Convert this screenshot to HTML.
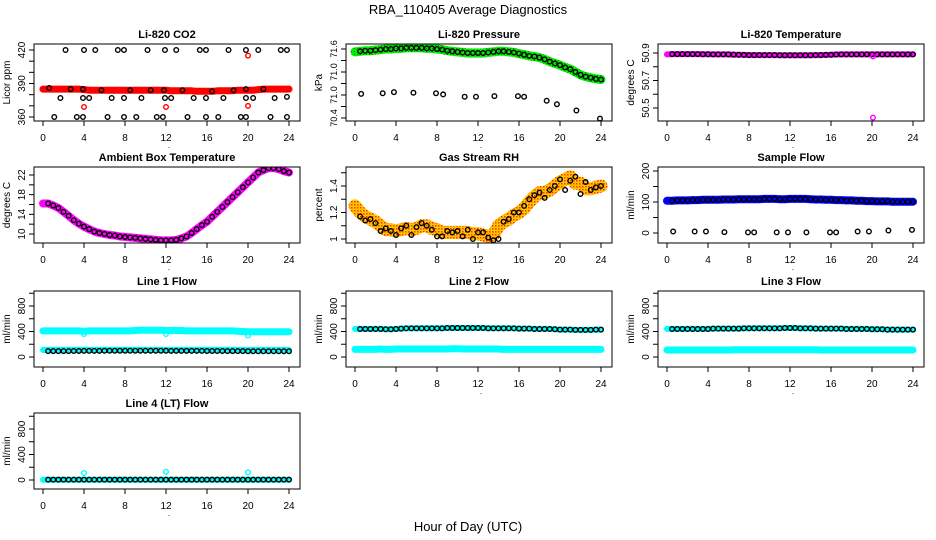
<!DOCTYPE html>
<html><head><meta charset="utf-8"><style>
html,body{margin:0;padding:0;background:#fff}
svg{display:block;font-family:"Liberation Sans",sans-serif}
</style></head><body>
<svg id="chart" width="936" height="540" viewBox="0 0 936 540" xmlns="http://www.w3.org/2000/svg">
<defs>
<pattern id="rhpat" width="3" height="3" patternUnits="userSpaceOnUse">
<rect width="3" height="3" fill="#ffd400"/><rect width="1.5" height="1.5" fill="#ff3000"/><rect x="1.5" y="1.5" width="1" height="1" fill="#ff8000"/>
</pattern>
<pattern id="grpat" width="3" height="3" patternUnits="userSpaceOnUse">
<rect width="3" height="3" fill="#00ee00"/><rect width="1" height="1" fill="#008800"/>
</pattern>
</defs>
<text x="468" y="14" text-anchor="middle" font-size="13">RBA_110405  Average Diagnostics</text>
<text x="468" y="531" text-anchor="middle" font-size="13">Hour of Day (UTC)</text>
</svg>
<script>
// ---- data ----
const xTicks = [0,4,8,12,16,20,24];

const co2Band = [385,385,385,385,385,385,385,385,384.5,384,384,384,384,384,384,384,384,384,384,384,384,384,384,384,384,383.5,383.5,383.5,383.5,383.5,383,383,383,383,383.5,383.5,383.5,383.5,384,384,384,384,384.5,385,385,385,385,385,385];
const co2BlackX = [2.2,4,5.1,7.3,7.9,10.2,11.9,13,15.3,15.9,18.1,19.8,21,23.2,23.8, 1.1,3.3,3.9,6.3,7.9,9.1,11.1,11.7,14.1,15.9,17.1,19.3,19.8,22.2,23.8, 1.7,3.9,4.5,6.7,7.9,9.6,11.9,12.5,14.7,15.9,17.6,19.8,20.5,22.6,23.8, 0.6,2.7,3.9,5.7,8.5,10.5,11.8,13.6,16.5,18.6,19.8,21.5];
const co2BlackY = [420,420,420,420,420,420,420,420,420,420,420,420,420,420,420, 360,360,360,360,360,360,360,360,360,360,360,360,360,360,360, 377,377,377,377,377,377,377,377,377,377,377,377,377,377,378, 386,385,385,384,384,384,384,384,383,384,385,385];
const co2OutX = [4,12,20,20];
const co2OutY = [369,369,370,415];

const pressBand = [71.55,71.56,71.57,71.57,71.58,71.59,71.6,71.6,71.61,71.61,71.62,71.62,71.62,71.62,71.61,71.61,71.6,71.59,71.57,71.56,71.55,71.54,71.53,71.53,71.53,71.53,71.54,71.55,71.56,71.56,71.55,71.54,71.52,71.5,71.48,71.47,71.45,71.42,71.38,71.35,71.32,71.28,71.25,71.2,71.15,71.12,71.1,71.08,71.07];
const pressLowX = [0.6,2.7,3.8,5.7,7.9,8.6,10.7,11.8,13.6,15.9,16.5,18.7,19.7,21.6,23.9];
const pressLowY = [70.82,70.83,70.85,70.84,70.83,70.81,70.77,70.77,70.78,70.78,70.77,70.7,70.64,70.53,70.39];
const pressTickLabels = ["70.4","71.0","71.0","71.6"];

const tempBand = [50.89,50.892,50.892,50.892,50.892,50.892,50.892,50.891,50.891,50.89,50.89,50.89,50.89,50.888,50.887,50.886,50.885,50.885,50.885,50.885,50.885,50.885,50.884,50.884,50.884,50.884,50.884,50.884,50.884,50.885,50.885,50.886,50.887,50.889,50.89,50.89,50.89,50.89,50.89,50.89,50.89,50.89,50.89,50.89,50.89,50.89,50.89,50.89,50.89];
const tempOutX = [20.1,20.1];
const tempOutY = [50.43,50.875];

const ambBand = [16.2,16.2,15.8,15.3,14.5,13.7,12.8,12.1,11.5,11,10.5,10.2,10,9.8,9.7,9.5,9.4,9.3,9.2,9.1,9,8.9,8.8,8.7,8.7,8.7,8.8,9.1,9.5,10.2,11,11.8,12.5,13.5,14.5,15.5,16.5,17.5,18.5,19.5,20.5,21.5,22.5,23,23.4,23.4,23.2,22.8,22.5];

const rhBand = [1.25,1.2,1.17,1.15,1.13,1.1,1.07,1.07,1.06,1.07,1.08,1.07,1.08,1.1,1.1,1.08,1.07,1.05,1.05,1.05,1.05,1.05,1.05,1.04,1.04,1.03,1.02,1.03,1.1,1.13,1.15,1.18,1.2,1.23,1.28,1.32,1.35,1.35,1.37,1.4,1.43,1.45,1.47,1.42,1.42,1.38,1.38,1.39,1.4];
const rhBlack = [1.17,1.14,1.15,1.12,1.06,1.08,1.06,1.03,1.08,1.1,1.03,1.09,1.12,1.1,1.07,1.02,1.02,1.06,1.05,1.06,1.02,1.07,1.0,1.05,1.05,1.01,0.99,1.0,1.13,1.15,1.2,1.2,1.25,1.3,1.33,1.35,1.31,1.37,1.4,1.45,1.37,1.44,1.47,1.34,1.43,1.37,1.39,1.4];

const sampleBand = [104,104,105,105,105,106,106,107,107,107,107,108,108,108,109,109,109,109,109,110,110,110,109,109,110,110,110,110,109,108,108,107,107,106,106,105,105,104,104,103,103,102,102,102,101,101,101,101,101];
const sampleLowX = [0.6,2.7,3.8,5.6,7.9,8.5,10.7,11.8,13.6,15.9,16.5,18.6,19.7,21.6,23.9];
const sampleLowY = [5,5,5,3,2,2,2,2,2,2,2,5,5,8,10];

const line1Upper = [410,410,410,410,410,410,410,410,405,410,410,410,410,410,410,410,410,410,415,420,420,420,420,420,415,415,415,415,410,410,410,410,410,410,410,410,410,410,405,400,395,395,395,395,395,395,395,395,395];
const line1Lower = [110,110,112,112,112,112,112,112,112,112,112,112,112,112,112,112,112,112,112,112,112,112,112,112,112,112,112,112,112,112,112,112,112,112,112,112,112,112,110,110,110,110,110,110,110,110,110,110,110];
const line1Black = [92,92,92,93,93,94,95,96,96,97,97,98,98,98,98,98,98,98,98,98,98,98,98,98,97,97,97,97,96,96,96,95,95,94,94,93,93,92,92,91,91,90,90,90,90,90,90,90];
const line1OutX = [4,12,20];
const line1OutY = [360,360,340];

const line2Upper = [440,440,440,440,440,440,435,435,440,445,450,450,450,450,450,450,450,450,455,455,455,455,455,455,455,455,450,450,450,450,450,450,445,445,445,440,440,440,440,435,430,430,430,425,425,425,425,430,430];
const line2Lower = [120,120,120,120,120,125,120,120,125,125,125,125,125,125,125,125,125,125,125,130,130,125,125,125,125,125,125,125,125,120,120,120,120,120,120,120,120,120,120,120,120,120,120,120,120,120,120,120,120];
const line3Upper = [440,440,440,440,440,440,440,440,440,445,445,445,445,445,445,450,450,450,450,450,450,450,450,455,455,455,450,450,450,445,445,445,445,445,445,440,440,440,440,440,435,435,435,430,430,430,430,430,430];
const line3Lower = [110,110,110,110,110,110,110,110,110,110,110,110,110,115,115,115,115,115,115,115,115,115,115,115,115,115,115,115,115,115,110,110,110,110,110,110,110,110,110,110,110,110,110,110,110,110,110,110,110];

const line4Band = [5,5,5,5,5,5,5,5,5,5,5,5,5,5,5,5,5,5,5,5,5,5,5,5,5,5,5,5,5,5,5,5,5,5,5,5,5,5,5,5,5,5,5,5,5,5,5,5,5];
const line4Black = [5,5,5,5,5,5,5,5,5,5,5,5,5,5,5,5,5,5,5,5,5,5,5,5,5,5,5,5,5,5,5,5,5,5,5,5,5,5,5,5,5,5,5,5,5,5,5,5];
const line4OutX = [4,12,20];
const line4OutY = [110,130,120];

// ---- drawing ----
const NS = "http://www.w3.org/2000/svg";
const svg = document.getElementById('chart');
const colLeft = [34,346,658];
const rowTB = [[44,121],[167,243],[291,367],[413,489]];
function mk(tag, attrs, parent){
  const e = document.createElementNS(NS, tag);
  for (const k in attrs) e.setAttribute(k, attrs[k]);
  (parent||svg).appendChild(e); return e;
}
function panel(col,row,name,title,ylab,v1,p1,v2,p2,ticks,labVals,labTxt){
  const L = colLeft[col], T = rowTB[row][0], B = rowTB[row][1], R = L+266;
  const g = mk('g',{});
  
  
  const xs = h => L + 9 + h*(246/24);
  const ys = v => p1 + (v-v1)*(p2-p1)/(v2-v1);
  const t = mk('text',{x:(L+R)/2,y:T-6,'text-anchor':'middle','font-size':11,'font-weight':'bold'},g);
  t.textContent = title;
  
  
  const yl = mk('text',{x:0,y:0,'text-anchor':'middle','font-size':10,transform:`translate(${L-24},${(T+B)/2}) rotate(-90)`},g);
  yl.textContent = ylab;
  
  
  const plot = mk('g',{},g);
  const clip = 'clip'+name;
  const cp = mk('clipPath',{id:clip},g); mk('rect',{x:L,y:T,width:266,height:B-T},cp);
  plot.setAttribute('clip-path','url(#'+clip+')');
  const ax = mk('g',{stroke:'#000','stroke-width':1,fill:'none'},g);
  mk('rect',{x:L,y:T,width:266,height:B-T},ax);
  xTicks.forEach(h=>{
    mk('line',{x1:xs(h),x2:xs(h),y1:B,y2:B+5},ax);
    const tx = mk('text',{x:xs(h),y:B+20,'text-anchor':'middle','font-size':10,fill:'#000',stroke:'none'},g);
    tx.textContent = h;
  });
  const dot = mk('text',{x:xs(12)+3,y:B+27,'text-anchor':'middle','font-size':8},g); dot.textContent='.';
  ticks.forEach(v=>{ const y=ys(v); if(y<T-0.5||y>B+0.5) return; mk('line',{x1:L,x2:L-5,y1:y,y2:y},ax); });
  labVals.forEach((v,i)=>{
    const tx = mk('text',{x:0,y:0,'text-anchor':'middle','font-size':labTxt?9:10,transform:`translate(${L-9},${ys(v)}) rotate(-90)`},g);
    tx.textContent = labTxt ? labTxt[i] : v;
  });
  return {plot,xs,ys,name};
}
function band(P, arr, color, w){
  const n = arr.length;
  const pts = arr.map((v,i)=>P.xs(i*24/(n-1)).toFixed(1)+','+P.ys(v).toFixed(1)).join(' ');
  const e = mk('polyline',{points:pts,fill:'none',stroke:color,'stroke-width':w,'stroke-linejoin':'round','stroke-linecap':'round'},P.plot);
  
  
}
function circ(P, xsArr, ysArr, color){
  xsArr.forEach((h,i)=>{
    const c = mk('circle',{cx:P.xs(h),cy:P.ys(ysArr[i]),r:2.3,fill:'none',stroke:color,'stroke-width':1.4},P.plot);
    
    
  });
}
function onBand(P, arr, color){
  const n = arr.length, xsA=[], ysA=[];
  for(let i=1;i<n;i++){ xsA.push(i*24/(n-1)); ysA.push(arr[i]); }
  circ(P, xsA, ysA, color);
}
function seqX(arr){ const n=arr.length; return arr.map((v,i)=>(i+1)*24/n); }
function range(a,b,s){ const r=[]; for(let v=a; v<=b+1e-9; v+=s) r.push(Math.round(v*1000)/1000); return r; }

let P = panel(0,0,'co2','Li-820 CO2','Licor ppm',360,117,420,50,range(350,430,10),[360,390,420]);
band(P, co2Band, '#ff0000', 7); circ(P, co2BlackX, co2BlackY, '#000'); circ(P, co2OutX, co2OutY, '#ff0000');
P = panel(1,0,'pressure','Li-820 Pressure','kPa',70.4,118,71.6,49,range(70.2,71.8,0.2),[70.4,70.8,71.2,71.6],pressTickLabels);
band(P, pressBand, 'url(#grpat)', 9); onBand(P, pressBand, '#000'); circ(P, pressLowX, pressLowY, '#000');
P = panel(2,0,'li820-temp','Li-820 Temperature','degrees C',50.5,108,50.9,53,range(50.5,51,0.1),[50.5,50.7,50.9]);
band(P, tempBand, '#ff00ff', 6); onBand(P, tempBand, '#000'); circ(P, tempOutX, tempOutY, '#ff00ff');
P = panel(0,1,'ambient','Ambient Box Temperature','degrees C',10,234,22,175,range(8,24,2),[10,14,18,22]);
band(P, ambBand, '#ff00ff', 8); onBand(P, ambBand, '#000');
P = panel(1,1,'rh','Gas Stream RH','percent',1.0,239,1.4,186,range(0.9,1.6,0.1),[1.0,1.2,1.4]);
band(P, rhBand, 'url(#rhpat)', 13); circ(P, seqX(rhBlack), rhBlack, '#000');
P = panel(2,1,'sample-flow','Sample Flow','ml/min',0,233,200,171,range(0,200,50),[0,100,200]);
band(P, sampleBand, '#0000ff', 8); onBand(P, sampleBand, '#000'); circ(P, sampleLowX, sampleLowY, '#000');
P = panel(0,2,'line1-flow','Line 1 Flow','ml/min',0,357,800,306,range(0,1000,200),[0,400,800]);
band(P, line1Upper, '#00ffff', 7); band(P, line1Lower, '#00ffff', 6); circ(P, seqX(line1Black), line1Black, '#000'); circ(P, line1OutX, line1OutY, '#00ffff');
P = panel(1,2,'line2-flow','Line 2 Flow','ml/min',0,357,800,306,range(0,1000,200),[0,400,800]);
band(P, line2Upper, '#00ffff', 6); band(P, line2Lower, '#00ffff', 7); onBand(P, line2Upper, '#000');
P = panel(2,2,'line3-flow','Line 3 Flow','ml/min',0,357,800,306,range(0,1000,200),[0,400,800]);
band(P, line3Upper, '#00ffff', 6); band(P, line3Lower, '#00ffff', 7); onBand(P, line3Upper, '#000');
P = panel(0,3,'line4-flow','Line 4 (LT) Flow','ml/min',0,480,800,429,range(0,1000,200),[0,400,800]);
band(P, line4Band, '#00ffff', 6); circ(P, seqX(line4Black), line4Black, '#000'); circ(P, line4OutX, line4OutY, '#00ffff');
</script>
</body></html>
